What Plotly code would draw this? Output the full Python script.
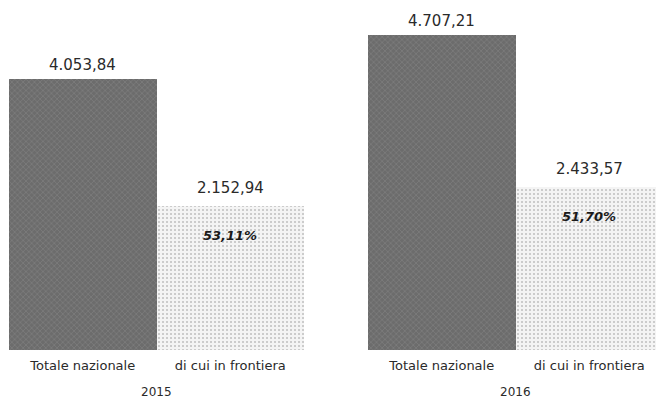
import plotly.graph_objects as go

# Source data: national total and border share, in thousands
years = ["2015", "2016"]
categories = ["Totale nazionale", "di cui in frontiera"]
totale_nazionale = [4053.84, 4707.21]
di_cui_frontiera = [2152.94, 2433.57]


def fmt_it(v):
    s = f"{v:,.2f}"
    return s.replace(",", "X").replace(".", ",").replace("X", ".")


def fmt_pct(v):
    return f"{v * 100:.2f}".replace(".", ",") + "%"


FONT = "DejaVu Sans"
TEXT = "#2a2a2a"
W, H = 656, 400

fig = go.Figure()

# panel domains in pixels (left panel fully shown, right panel runs to the edge)
panels = [
    dict(dom=(9, 304), rng=(-0.5, 1.5)),
    dict(dom=(368, 656), rng=(-0.5, -0.5 + 288 / 147.5)),
]

annotations = []
for i, year in enumerate(years):
    xa = "x" if i == 0 else f"x{i + 1}"
    ya = "y" if i == 0 else f"y{i + 1}"
    vals = [totale_nazionale[i], di_cui_frontiera[i]]

    fig.add_trace(go.Bar(
        x=[categories[0]], y=[vals[0]], xaxis=xa, yaxis=ya, width=1.0,
        marker=dict(color="#6c6c6c", line=dict(width=0),
                    pattern=dict(shape="x", fgcolor="#9c9c9c", size=4, solidity=0.25)),
        showlegend=False, hoverinfo="skip",
    ))
    fig.add_trace(go.Bar(
        x=[categories[1]], y=[vals[1]], xaxis=xa, yaxis=ya, width=1.0,
        marker=dict(color="#ffffff", line=dict(width=0),
                    pattern=dict(shape=".", fgcolor="#8a8a8a", bgcolor="#f4f4f4",
                                 size=4, solidity=0.2)),
        showlegend=False, hoverinfo="skip",
    ))

    # value labels above the bars
    annotations.append(dict(
        x=categories[0], y=vals[0], xref=xa, yref=ya, text=fmt_it(vals[0]),
        showarrow=False, yanchor="bottom", yshift=3,
        font=dict(family=FONT, size=15, color=TEXT)))
    annotations.append(dict(
        x=categories[1], y=vals[1], xref=xa, yref=ya, text=fmt_it(vals[1]),
        showarrow=False, yanchor="bottom", yshift=7,
        font=dict(family=FONT, size=15, color=TEXT)))
    # border share of the national total
    annotations.append(dict(
        x=categories[1], y=vals[1], xref=xa, yref=ya,
        text=f"<b><i>{fmt_pct(vals[1] / vals[0])}</i></b>",
        showarrow=False, yanchor="middle", yshift=-29,
        font=dict(family=FONT, size=13, color="#1a1a1a")))
    # year label under the panel
    annotations.append(dict(
        x=0.5, y=0, xref=xa, yref=ya, text=year, showarrow=False,
        yanchor="middle", yshift=-42,
        font=dict(family=FONT, size=12, color=TEXT)))

layout = dict(
    width=W, height=H,
    margin=dict(l=0, r=0, t=0, b=50),
    paper_bgcolor="white", plot_bgcolor="rgba(0,0,0,0)",
    bargap=0, barmode="overlay",
    annotations=annotations,
)

y_top = 5236
for i, p in enumerate(panels):
    sfx = "" if i == 0 else str(i + 1)
    layout[f"xaxis{sfx}"] = dict(
        domain=[p["dom"][0] / W, p["dom"][1] / W],
        range=list(p["rng"]), type="category",
        categoryorder="array", categoryarray=categories,
        showgrid=False, zeroline=False, showline=False, ticks="",
        ticklabelstandoff=6,
        tickfont=dict(family=FONT, size=13, color=TEXT),
        anchor="y" if i == 0 else f"y{i + 1}",
    )
    layout[f"yaxis{sfx}"] = dict(
        range=[0, y_top], visible=False, showgrid=False, zeroline=False,
        anchor="x" if i == 0 else f"x{i + 1}",
    )

fig.update_layout(**layout)
fig.write_html("out.html")
